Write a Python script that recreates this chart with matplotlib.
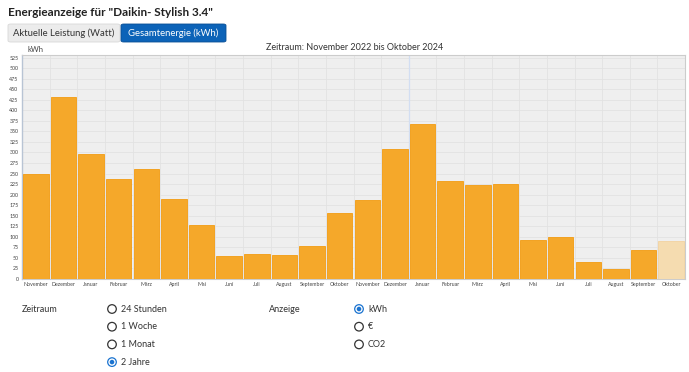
import numpy as np
import matplotlib
matplotlib.use("Agg")
import matplotlib.pyplot as plt
from matplotlib.patches import FancyBboxPatch, Ellipse

plt.rcParams['font.family'] = ['Lato', 'DejaVu Sans']

# monthly energy, November 2022 .. Oktober 2024 (kWh)
months = ["November", "Dezember", "Januar", "Februar", "März", "April", "Mai",
          "Juni", "Juli", "August", "September", "Oktober"] * 2
kwh = [248, 432, 296, 237, 260, 189, 127, 54, 60, 57, 79, 156,
       187, 307, 367, 232, 223, 226, 92, 99, 41, 24, 68, 90]
yticks = list(range(0, 526, 25))
period_opts = ["24 Stunden", "1 Woche", "1 Monat", "2 Jahre"]
unit_opts = ["kWh", "€", "CO2"]

W, H = 689, 372
fig = plt.figure(figsize=(W / 100, H / 100), dpi=100)

def fx(px):
    return px / W

def fy(py):
    return 1 - py / H

# header
fig.text(fx(8), fy(12), 'Energieanzeige für "Daikin- Stylish 3.4"', fontsize=8.5,
         fontweight='bold', color='#222222', va='center')
fig.patches.append(FancyBboxPatch((fx(8), fy(42)), fx(112), 18 / H,
                                  boxstyle="round,pad=0,rounding_size=0.004",
                                  transform=fig.transFigure, fc='#ececec', ec='#d8d8d8', lw=0.6))
fig.patches.append(FancyBboxPatch((fx(121), fy(42)), fx(105), 18 / H,
                                  boxstyle="round,pad=0,rounding_size=0.004",
                                  transform=fig.transFigure, fc='#0c63b8', ec='#0a4f94', lw=0.6))
fig.text(fx(64), fy(33), "Aktuelle Leistung (Watt)", fontsize=6.8, color='#333333',
         ha='center', va='center')
fig.text(fx(173.5), fy(33), "Gesamtenergie (kWh)", fontsize=6.8, color='white',
         ha='center', va='center')

# chart
ax = fig.add_axes([fx(22), fy(279), fx(663), (279 - 55) / H])
ax.set_facecolor('#efefef')
x = np.arange(len(kwh))
colors = ['#f5a82a'] * (len(kwh) - 1) + ['#f5dcb0']
edges = ['#f39c12'] * (len(kwh) - 1) + ['#f2d3a0']
ax.bar(x, kwh, width=0.92, color=colors, edgecolor=edges, linewidth=0.6, zorder=3)
ax.set_xlim(-0.5, len(kwh) - 0.5)
ax.set_ylim(0, 531)
ax.set_yticks(yticks)
ax.set_yticklabels([str(v) for v in yticks], fontsize=3.8, color='#444444')
ax.set_xticks(x)
ax.set_xticklabels(months, fontsize=3.8, color='#444444')
ax.tick_params(length=0, pad=2.5)
for v in yticks[1:]:
    ax.axhline(v, color='#e2e2e2', lw=0.6, zorder=1)
for b in np.arange(0.5, len(kwh) - 1, 1):
    ax.axvline(b, color='#e2e2e2', lw=0.6, zorder=1)
ax.axvline(13.5, color='#d2def2', lw=0.9, zorder=1)
for s in ['top', 'right', 'bottom']:
    ax.spines[s].set_color('#cccccc')
    ax.spines[s].set_linewidth(0.8)
ax.spines['left'].set_color('#b8c4d4')
ax.spines['left'].set_linewidth(1.0)

fig.text(fx(28), fy(49), "kWh", fontsize=5.5, color='#444444', va='center')
fig.text(fx(355), fy(48), "Zeitraum: November 2022 bis Oktober 2024", fontsize=6.5,
         color='#333333', ha='center', va='center')

# radio controls
def radio(px, py, label, selected):
    r = 4.3
    col = '#1a73d0' if selected else '#333333'
    fig.patches.append(Ellipse((fx(px), fy(py)), 2 * r / W, 2 * r / H,
                               transform=fig.transFigure, fill=False, ec=col, lw=0.9))
    if selected:
        fig.patches.append(Ellipse((fx(px), fy(py)), 4.6 / W, 4.6 / H,
                                   transform=fig.transFigure, fc=col, ec='none'))
    fig.text(fx(px + 9), fy(py), label, fontsize=6.5, color='#333333', va='center')

fig.text(fx(22), fy(309), "Zeitraum", fontsize=6.5, color='#333333', va='center')
for i, lab in enumerate(period_opts):
    radio(112, 309 + i * 17.7, lab, lab == "2 Jahre")
fig.text(fx(269), fy(309), "Anzeige", fontsize=6.5, color='#333333', va='center')
for i, lab in enumerate(unit_opts):
    radio(359, 309 + i * 17.7, lab, lab == "kWh")

fig.savefig("out.png", dpi=100)
